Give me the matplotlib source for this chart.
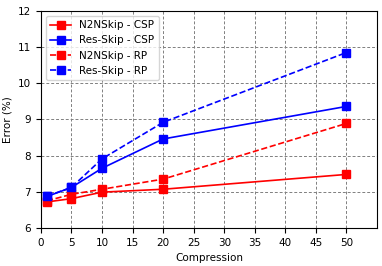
import matplotlib
matplotlib.use("Agg")
import matplotlib.pyplot as plt

compression = [1, 5, 10, 20, 50]
n2n_csp = [6.72, 6.81, 6.99, 7.07, 7.48]
res_csp = [6.87, 7.12, 7.65, 8.46, 9.36]
n2n_rp = [6.75, 6.93, 7.07, 7.35, 8.89]
res_rp = [6.88, 7.12, 7.91, 8.92, 10.85]

fig = plt.figure(figsize=(3.82, 2.66), dpi=100)
ax = fig.add_axes([0.107, 0.143, 0.88, 0.816])
ax.plot(compression, n2n_csp, 'r-s', label='N2NSkip - CSP', markersize=5.5, linewidth=1.2)
ax.plot(compression, res_csp, 'b-s', label='Res-Skip - CSP', markersize=5.5, linewidth=1.2)
ax.plot(compression, n2n_rp, 'r--s', label='N2NSkip - RP', markersize=5.5, linewidth=1.2)
ax.plot(compression, res_rp, 'b--s', label='Res-Skip - RP', markersize=5.5, linewidth=1.2)
ax.set_xlim(0, 55)
ax.set_ylim(6, 12)
ax.set_xticks(range(0, 55, 5))
ax.set_yticks(range(6, 13))
ax.grid(True, linestyle='--', color='gray', linewidth=0.7, dashes=(3, 2))
ax.tick_params(labelsize=7.5)
ax.set_xlabel('Compression', fontsize=7.5)
ax.set_ylabel('Error (%)', fontsize=7.5)
ax.legend(fontsize=7.5, loc='upper left')
fig.savefig('out.png', dpi=100)
